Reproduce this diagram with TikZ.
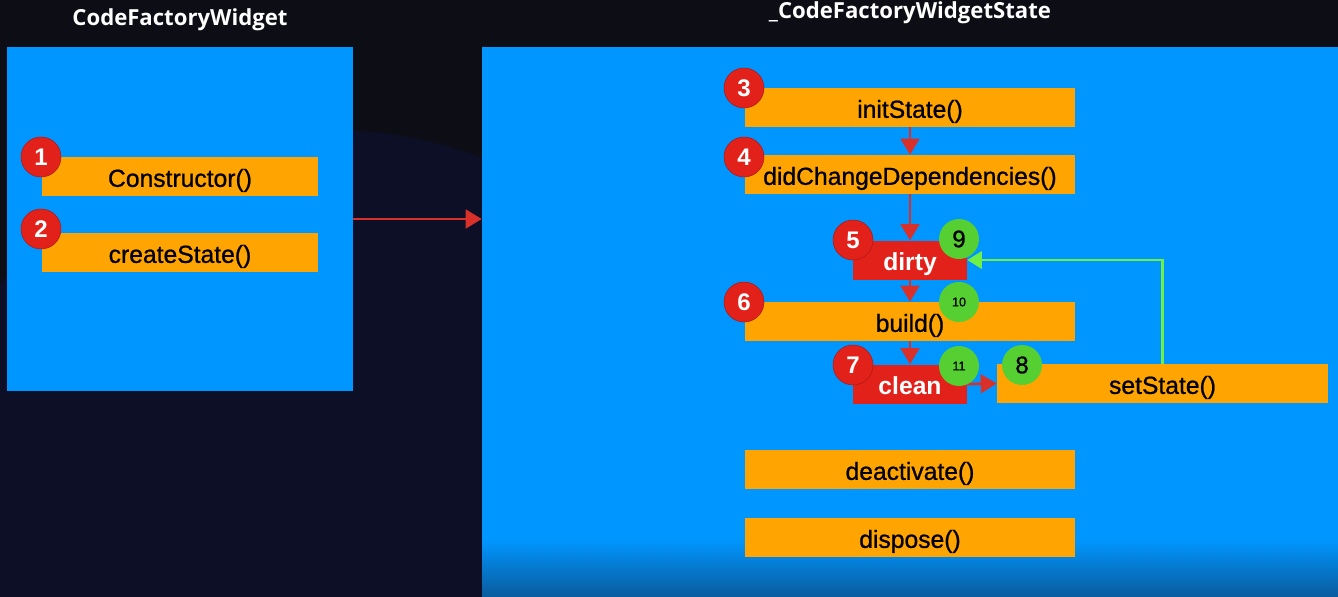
\documentclass[tikz,border=0pt]{standalone}
\usepackage{fontspec}
\setmainfont{Liberation Sans}
\newfontfamily\boxfont[FakeBold=0.9]{Liberation Sans}
\newfontfamily\titlefont{Open Sans}
\usetikzlibrary{arrows.meta}
\definecolor{bg}{HTML}{0C0D15}
\definecolor{bgblob}{HTML}{0D0F26}
\definecolor{panel}{HTML}{0096FF}
\definecolor{paneldark}{HTML}{0A5C9E}
\definecolor{box}{HTML}{FFA400}
\definecolor{redc}{HTML}{E3211B}
\definecolor{greenc}{HTML}{56CF32}
\definecolor{arrowred}{HTML}{D9302A}
\definecolor{arrowgreen}{HTML}{6EF046}
\begin{document}
\begin{tikzpicture}[x=0.75pt,y=-0.75pt,
  panelbox/.style={fill=panel, inner sep=0pt, draw=none},
  method/.style={fill=box, inner sep=0pt, minimum height=39*0.75pt, text=black,
    text height=17.5pt, text depth=2pt,
    font=\boxfont\fontsize{18.5}{19}\selectfont},
  wide/.style={minimum width=330*0.75pt},
  statebox/.style={fill=redc, inner sep=0pt, minimum width=114*0.75pt, minimum height=39*0.75pt,
    text height=17.5pt, text depth=2pt,
    text=white, font=\fontsize{18.5}{19}\selectfont\bfseries},
  redbadge/.style={circle, fill=redc, draw=redc!75!black, line width=0.4pt, inner sep=0pt,
    minimum size=40*0.75pt, text=white, font=\fontsize{18}{18}\selectfont\bfseries},
  greenbadge/.style={circle, fill=greenc, inner sep=0pt, minimum size=40*0.75pt,
    text=black, font=\boxfont\fontsize{18}{18}\selectfont},
  smallgreen/.style={greenbadge, font=\boxfont\fontsize{9.5}{10}\selectfont},
  titletext/.style={text=white, font=\titlefont\fontsize{16.6}{17}\selectfont\bfseries},
  redarrow/.style={draw=arrowred, line width=2pt, -{Triangle[width=14pt,length=12pt]}},
  greenarrow/.style={draw=arrowgreen, line width=2pt, -{Triangle[width=13pt,length=11pt]}}
]
\useasboundingbox (0,0) rectangle (1338,596);
\fill[bg] (0,0) rectangle (1338,596);
\fill[bgblob] (330,560) circle[radius=430*0.75pt];

% titles
\node[titletext] (t1) at (180,20) {CodeFactoryWidget};
\node[titletext] (t2) at (910,13) {\_CodeFactoryWidgetState};

% panels
\node[panelbox, minimum width=346*0.75pt, minimum height=344*0.75pt] (left) at (180,219) {};
\node[panelbox, minimum width=856*0.75pt, minimum height=549*0.75pt] (right) at (910,321.5) {};
\shade[top color=panel, bottom color=paneldark] (482,540) rectangle (1338,596);

% left methods
\node[method, minimum width=276*0.75pt] (ctor) at (180,176.5) {Constructor()};
\node[method, minimum width=276*0.75pt] (cs) at (180,252.5) {createState()};

% right methods
\node[method, wide] (init) at (910,107.5) {initState()};
\node[method, wide] (dcd) at (910,174.5) {didChangeDependencies()};
\node[statebox] (dirty) at (910,260) {dirty};
\node[method, wide] (build) at (910,321.5) {build()};
\node[statebox] (clean) at (910,384) {clean};
\node[method, minimum width=331*0.75pt] (set) at (1162.5,383.5) {setState()};
\node[method, wide] (deact) at (910,469.5) {deactivate()};
\node[method, wide] (disp) at (910,537.5) {dispose()};

% connectors
\draw[redarrow] (left.east) -- (left.east -| right.west);
\draw[redarrow] (init.south) -- (dcd.north);
\draw[redarrow] (dcd.south) -- (dirty.north);
\draw[redarrow] (dirty.south) -- (build.north);
\draw[redarrow] (build.south) -- (clean.north);
\draw[redarrow] (clean.east) -- (set.west);
\draw[greenarrow] (set.north) |- (dirty.east);

% badges
\node[redbadge] (b1) at (41,157) {1};
\node[redbadge] (b2) at (41,229) {2};
\node[redbadge] (b3) at (744,88) {3};
\node[redbadge] (b4) at (744,157) {4};
\node[redbadge] (b5) at (853,240) {5};
\node[redbadge] (b6) at (744,302) {6};
\node[redbadge] (b7) at (853,365) {7};
\node[greenbadge] (g9) at (959,239) {9};
\node[smallgreen] (g10) at (959,302) {10};
\node[smallgreen] (g11) at (959,366) {11};
\node[greenbadge] (g8) at (1022,365) {8};
\end{tikzpicture}
\end{document}
